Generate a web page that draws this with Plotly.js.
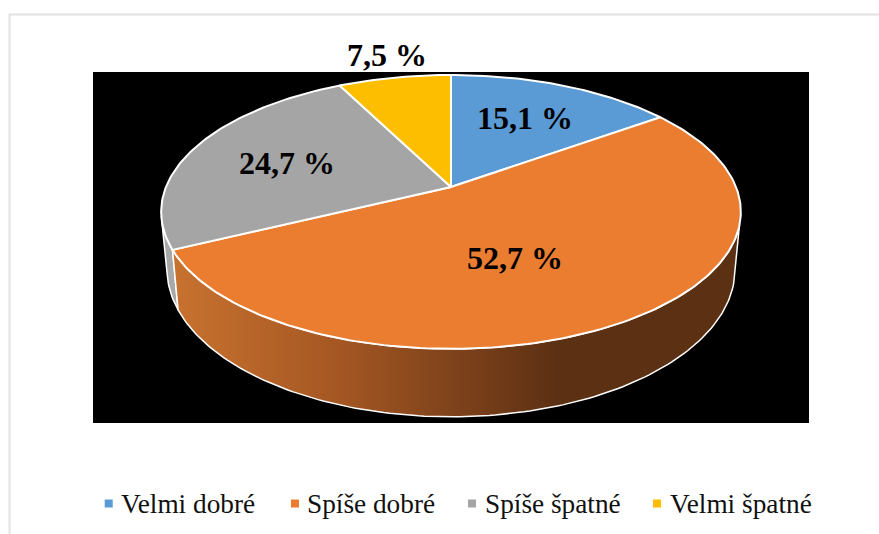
<!DOCTYPE html>
<html><head><meta charset="utf-8">
<script src="https://cdn.plot.ly/plotly-3.0.1.min.js"></script>
<style>html,body{margin:0;padding:0;background:#fff;overflow:hidden}</style>
</head><body><div id="chart" style="width:879px;height:534px"></div>
<script>
const categories = ["Velmi dobré", "Spíše dobré", "Spíše špatné", "Velmi špatné"];
const values = [15.1, 52.7, 24.7, 7.5];
const sliceLabels = ["15,1 %", "52,7 %", "24,7 %", "7,5 %"];
const colors = ["#5b9bd5", "#eb7d31", "#a5a5a5", "#fdbe00"];
const labelX = [524.5, 515, 287, 387];
const labelY = [118, 258, 163, 55];
const legendMarkerX = [108.7, 295, 472, 657];
const legendTextX = [121.5, 308, 485.5, 670.5];

// perspective projection of the pie disc
const cx = 451, cy = 187, A = 285, B = 132.4, P = 0.182;
const rad = d => d * Math.PI / 180;
function proj(deg, kx, ky, dy) {
  const s = Math.sin(rad(deg)), c = Math.cos(rad(deg)), w = 1 + P * c;
  return [cx + A * kx * s / w, cy + dy - B * ky * c / w];
}
const top_ = d => proj(d, 1, 1, 0);
const bot = d => proj(d, 0.98, 1.08, 55);
function arc(f, a, b) {
  const n = Math.max(2, Math.ceil(Math.abs(b - a))), pts = [];
  for (let i = 0; i <= n; i++) pts.push(f(a + (b - a) * i / n));
  return pts;
}
function poly(pts, extra) {
  return Object.assign({
    type: "scatter", mode: "lines", x: pts.map(p => p[0]), y: pts.map(p => p[1]),
    fill: "toself", showlegend: false, hoverinfo: "skip"
  }, extra);
}
const closed = pts => pts.concat([pts[0]]);
const total = values.reduce((a, b) => a + b, 0);
let acc = 0;
const bounds = values.map(v => { const a = acc; acc += v; return [a / total * 360, acc / total * 360]; });

const traces = [];
// side walls
const orangeEnd = bounds[1][1];
const rightStart = 106, leftLimit = 258;
traces.push(poly(closed(arc(top_, orangeEnd, leftLimit).concat(arc(bot, leftLimit, orangeEnd))),
  {fillcolor: "#a8a8a8", line: {color: "#ffffff", width: 1.5}}));
traces.push(poly(closed(arc(top_, rightStart, orangeEnd).concat(arc(bot, orangeEnd, rightStart))), {
  fillgradient: {type: "horizontal", colorscale: [[0, "#c8722f"], [0.29, "#a55723"], [0.68, "#5c3013"], [1, "#5c3013"]]},
  line: {color: "#ffffff", width: 1.5}
}));
// top face
bounds.forEach((b, i) => {
  const pts = [[cx, cy]].concat(arc(top_, b[0], b[1])).concat([[cx, cy]]);
  traces.push(poly(pts, {fillcolor: colors[i], line: {color: "#ffffff", width: 2}}));
});
// legend swatches
categories.forEach((name, i) => traces.push({
  type: "scatter", mode: "markers", x: [legendMarkerX[i]], y: [503.5], name,
  marker: {symbol: "square", size: 8, color: colors[i]}, showlegend: false, hoverinfo: "name"
}));

const sliceAnn = sliceLabels.map((t, i) => ({
  text: "<b>" + t + "</b>", x: labelX[i], y: labelY[i], xref: "x", yref: "y",
  showarrow: false, xanchor: "center", yanchor: "middle",
  font: {family: "'Liberation Serif', serif", size: 32, color: "#000000"}
}));
const legendAnn = categories.map((t, i) => ({
  text: t, x: legendTextX[i], y: 504, xref: "x", yref: "y",
  showarrow: false, xanchor: "left", yanchor: "middle", xshift: -3,
  font: {family: "'Liberation Serif', serif", size: 27.3, color: "#111111"}
}));

const layout = {
  width: 879, height: 534,
  margin: {l: 0, r: 0, t: 0, b: 0},
  paper_bgcolor: "#ffffff", plot_bgcolor: "rgba(0,0,0,0)",
  showlegend: false,
  xaxis: {range: [0, 879], visible: false, fixedrange: true},
  yaxis: {range: [534, 0], visible: false, fixedrange: true},
  font: {family: "'Liberation Serif', serif", color: "#000000"},
  shapes: [
    {type: "rect", xref: "x", yref: "y", x0: 93, x1: 809, y0: 72, y1: 423, fillcolor: "#000000", line: {width: 0}, layer: "below"},
    {type: "line", xref: "x", yref: "y", x0: 9, x1: 879, y0: 14.5, y1: 14.5, line: {color: "#e2e2e2", width: 2}, layer: "below"},
    {type: "line", xref: "x", yref: "y", x0: 9.5, x1: 9.5, y0: 14, y1: 534, line: {color: "#e2e2e2", width: 2}, layer: "below"}
  ],
  annotations: sliceAnn.concat(legendAnn)
};
Plotly.newPlot("chart", traces, layout, {displayModeBar: false});
</script></body></html>
